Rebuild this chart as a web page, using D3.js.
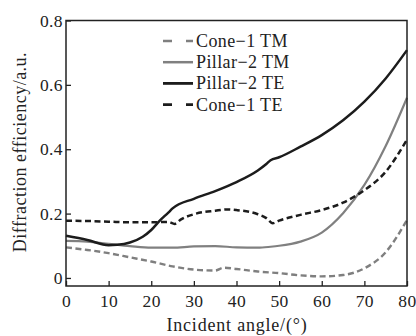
<!DOCTYPE html>
<html>
<head>
<meta charset="utf-8">
<script src="https://cdn.jsdelivr.net/npm/d3@7"></script>
<style>
  body { margin: 0; background: #fff; }
</style>
</head>
<body>
<svg id="viz" width="416" height="336"></svg>
<script>
// values
var xTicks = [0, 10, 20, 30, 40, 50, 60, 70, 80];
var yTicks = [0, 0.2, 0.4, 0.6, 0.8];

var pillarTEAngles = [0, 5, 10, 12, 15, 18, 20, 22, 24, 25, 30, 35, 40, 45, 47, 48, 50, 55, 60, 65, 70, 75, 80];
var pillarTEValues = [0.131, 0.118, 0.102, 0.103, 0.11, 0.128, 0.149, 0.178, 0.203, 0.216, 0.246, 0.27, 0.298, 0.334, 0.354, 0.366, 0.375, 0.408, 0.444, 0.49, 0.548, 0.62, 0.708];

var pillarTMAngles = [0, 5, 10, 15, 20, 25, 30, 35, 40, 45, 48, 50, 55, 60, 65, 70, 75, 80];
var pillarTMValues = [0.115, 0.113, 0.106, 0.099, 0.094, 0.094, 0.098, 0.099, 0.095, 0.094, 0.097, 0.1, 0.113, 0.141, 0.201, 0.289, 0.41, 0.56];

var coneTEAngles = [0, 5, 10, 15, 20, 24, 25.5, 27, 30, 35, 38, 40, 45, 47, 48.5, 50, 55, 60, 65, 70, 75, 80];
var coneTEValues = [0.178, 0.177, 0.175, 0.173, 0.173, 0.174, 0.168, 0.182, 0.198, 0.209, 0.213, 0.211, 0.198, 0.186, 0.17, 0.178, 0.196, 0.211, 0.234, 0.273, 0.33, 0.43];

var coneTMAngles = [0, 5, 10, 15, 20, 25, 30, 35, 37, 40, 45, 50, 55, 60, 65, 70, 75, 80];
var coneTMValues = [0.095, 0.087, 0.077, 0.064, 0.051, 0.036, 0.026, 0.023, 0.032, 0.028, 0.02, 0.015, 0.008, 0.005, 0.009, 0.03, 0.08, 0.18];

var legendNames = ["Cone\u22121 TM", "Pillar\u22122 TM", "Pillar\u22122 TE", "Cone\u22121 TE"];

var fontFam = "'Liberation Serif', 'Times New Roman', serif";

var chart = {};
chart.svg = d3.select("#viz");
chart.box = { left: 66, right: 407, top: 20.5, bottom: 286 };

chart.x = d3.scaleLinear().domain([0, 80]).range([chart.box.left, chart.box.right]);
chart.y = d3.scaleLinear().domain([-0.025, 0.8]).range([chart.box.bottom, chart.box.top]);

function zip(a, v) { return a.map(function (d, i) { return [d, v[i]]; }); }

var series = [
    { name: legendNames[0], data: zip(coneTMAngles, coneTMValues), color: "#7f7f7f", width: 2.4, dash: "6,3.5" },
    { name: legendNames[1], data: zip(pillarTMAngles, pillarTMValues), color: "#808080", width: 2.2, dash: null },
    { name: legendNames[2], data: zip(pillarTEAngles, pillarTEValues), color: "#1c1c1c", width: 2.5, dash: null },
    { name: legendNames[3], data: zip(coneTEAngles, coneTEValues), color: "#1c1c1c", width: 2.5, dash: "6,3.5" }
];

function styleAxis(g) {
    g.select(".domain").remove();
    g.selectAll("line").attr("stroke", "#222").attr("stroke-width", 1.3);
    g.selectAll("text")
        .style("font-family", fontFam)
        .style("font-size", "17.5px")
        .style("letter-spacing", "0.4px")
        .attr("fill", "#222");
}

// axes with inward ticks
chart.svg.append("g")
    .attr("transform", "translate(0," + chart.box.bottom + ")")
    .call(d3.axisBottom(chart.x).tickValues(xTicks).tickSize(-5).tickPadding(9).tickFormat(d3.format("d")))
    .call(styleAxis);

chart.svg.append("g")
    .attr("transform", "translate(" + chart.box.left + ",0)")
    .call(d3.axisLeft(chart.y).tickValues(yTicks).tickSize(-5).tickPadding(3).tickFormat(function (d) { return d === 0 ? "0" : d3.format(".1f")(d); }))
    .call(styleAxis);

var line = d3.line()
    .x(function (d) { return chart.x(d[0]); })
    .y(function (d) { return chart.y(d[1]); })
    .curve(d3.curveMonotoneX);

chart.svg.append("g").selectAll("path")
    .data(series)
    .enter().append("path")
    .attr("d", function (d) { return line(d.data); })
    .attr("fill", "none")
    .attr("stroke", function (d) { return d.color; })
    .attr("stroke-width", function (d) { return d.width; })
    .attr("stroke-dasharray", function (d) { return d.dash; });

// frame
chart.svg.append("rect")
    .attr("x", chart.box.left).attr("y", chart.box.top)
    .attr("width", chart.box.right - chart.box.left)
    .attr("height", chart.box.bottom - chart.box.top)
    .attr("fill", "none").attr("stroke", "#222").attr("stroke-width", 1.5);

// legend
var leg = chart.svg.append("g").selectAll("g")
    .data(series)
    .enter().append("g")
    .attr("transform", function (d, i) { return "translate(163," + (41 + i * 21.2) + ")"; });
leg.append("line")
    .attr("x1", 0).attr("x2", 30).attr("y1", 0).attr("y2", 0)
    .attr("stroke", function (d) { return d.color; })
    .attr("stroke-width", function (d) { return d.width + 0.3; })
    .attr("stroke-dasharray", function (d) { return d.dash ? "9,14" : null; });
leg.append("text")
    .attr("x", 33).attr("y", 6)
    .style("font-family", fontFam)
    .style("font-size", "18px")
    .style("letter-spacing", "0.4px")
    .attr("fill", "#222")
    .text(function (d) { return d.name; });

// axis titles
chart.svg.append("text")
    .attr("x", 237).attr("y", 331)
    .attr("text-anchor", "middle")
    .style("font-family", fontFam)
    .style("font-size", "18px")
    .style("letter-spacing", "0.8px")
    .attr("fill", "#222")
    .text("Incident angle/(\u00b0)");

chart.svg.append("text")
    .attr("transform", "translate(26,152) rotate(-90)")
    .attr("text-anchor", "middle")
    .style("font-family", fontFam)
    .style("font-size", "18px")
    .style("letter-spacing", "0.5px")
    .attr("fill", "#222")
    .text("Diffraction efficiency/a.u.");
</script>
</body>
</html>
